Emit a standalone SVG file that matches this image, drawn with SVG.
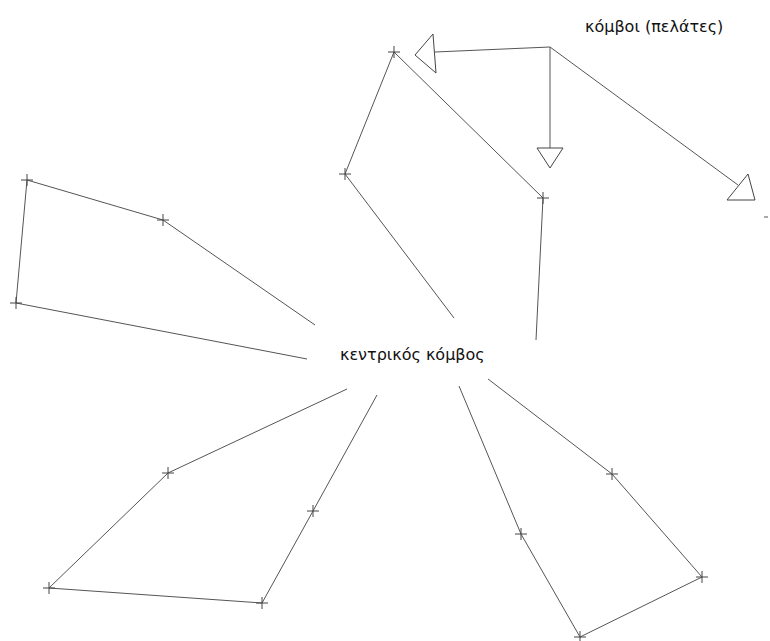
<svg xmlns="http://www.w3.org/2000/svg" width="770" height="641" viewBox="0 0 770 641">
<defs>
<style>
.ln{fill:none;stroke:#555;stroke-width:1}
.tri{fill:#fff;stroke:#444;stroke-width:1}
.cr{stroke:#444;stroke-width:1}
.lbl{font-family:"DejaVu Sans","Liberation Sans",sans-serif;font-size:16px;fill:#111}
</style>
<path id="x" class="cr" d="M-6,0H6M0,-6V6"/>
</defs>
<rect width="770" height="641" fill="#fff"/>
<g id="connectors">
<polyline class="ln" points="454,318 345,174 394,52 543,198 536,340"/>
<polyline class="ln" points="315,325 163,220 27,180 16,303 307,359"/>
<polyline class="ln" points="347,389 168,473 49,588 262,603 313,511 377,395"/>
<polyline class="ln" points="459,386 521,534 580,637 702,577 612,474 488,379"/>
<line class="ln" x1="435" y1="52" x2="550" y2="47"/>
<line class="ln" x1="550" y1="47" x2="550" y2="148"/>
<line class="ln" x1="550" y1="47" x2="738" y2="185"/>
<line class="ln" x1="764" y1="217" x2="768" y2="217"/>
</g>
<g id="crosses">
<use href="#x" x="394" y="52"/>
<use href="#x" x="345" y="174"/>
<use href="#x" x="543" y="198"/>
<use href="#x" x="27" y="180"/>
<use href="#x" x="163" y="220"/>
<use href="#x" x="16" y="303"/>
<use href="#x" x="168" y="473"/>
<use href="#x" x="49" y="588"/>
<use href="#x" x="262" y="603"/>
<use href="#x" x="313" y="511"/>
<use href="#x" x="521" y="534"/>
<use href="#x" x="580" y="637"/>
<use href="#x" x="702" y="577"/>
<use href="#x" x="612" y="474"/>
</g>
<g id="client1"><polygon class="tri" points="415,55 433,34 436,73"/></g>
<g id="client2"><polygon class="tri" points="537,148 563,148 550,168"/></g>
<g id="client3"><polygon class="tri" points="727,200 748,174 755,200"/></g>
<g id="central"><text class="lbl" x="340" y="360">κεντρικός κόμβος</text></g>
<g id="clients-label"><text class="lbl" x="585" y="32">κόμβοι (πελάτες)</text></g>
</svg>
